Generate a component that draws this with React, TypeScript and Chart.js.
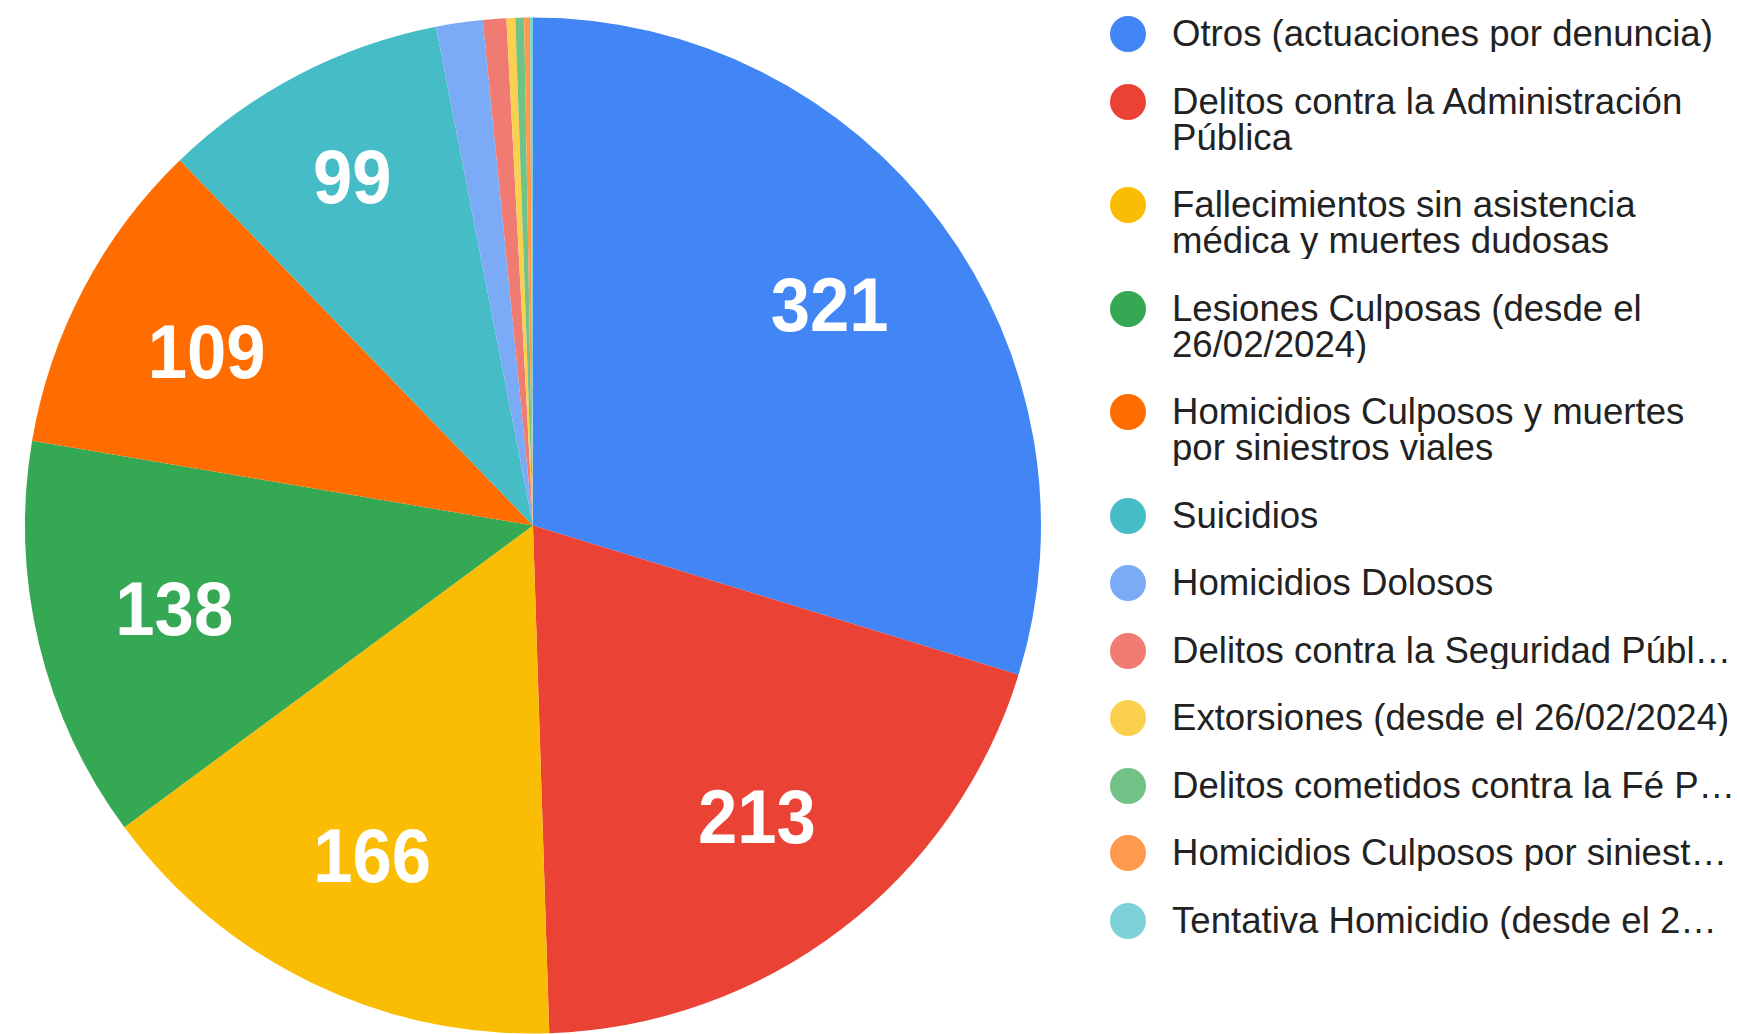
import React, { useEffect, useRef } from "react";
import { Chart, registerables } from "chart.js";

Chart.register(...registerables);

const categories: string[] = [
  "Otros (actuaciones por denuncia)",
  "Delitos contra la Administración Pública",
  "Fallecimientos sin asistencia médica y muertes dudosas",
  "Lesiones Culposas (desde el 26/02/2024)",
  "Homicidios Culposos y muertes por siniestros viales",
  "Suicidios",
  "Homicidios Dolosos",
  "Delitos contra la Seguridad Pública",
  "Extorsiones (desde el 26/02/2024)",
  "Delitos cometidos contra la Fé Pública",
  "Homicidios Culposos por siniestros viales",
  "Tentativa Homicidio (desde el 26/02/2024)",
];

const values: number[] = [321, 213, 166, 138, 109, 99, 16, 8, 3, 3, 2, 1];

const colors: string[] = [
  "#4285f4",
  "#ea4335",
  "#fbbc04",
  "#34a853",
  "#ff6d01",
  "#46bdc6",
  "#7baaf7",
  "#f07b72",
  "#fcd04f",
  "#71c287",
  "#ff994d",
  "#7ed1d7",
];

// maximum number of legend lines per entry (Google wraps some, truncates others)
const legendMaxLines: number[] = [1, 2, 2, 2, 2, 1, 1, 1, 1, 1, 1, 1];

const FONT = '"Liberation Sans", Arial, Helvetica, sans-serif';

const sliceLabelPlugin = {
  id: "sliceLabels",
  afterDatasetsDraw(chart: any) {
    const ctx = chart.ctx as CanvasRenderingContext2D;
    const meta = chart.getDatasetMeta(0);
    const data = chart.data.datasets[0].data as number[];
    const total = data.reduce((a, b) => a + b, 0);
    const size = 76;
    const sx = 0.93;
    ctx.save();
    ctx.fillStyle = "#ffffff";
    ctx.font = `bold ${size}px ${FONT}`;
    ctx.textAlign = "center";
    ctx.textBaseline = "alphabetic";
    meta.data.forEach((arc: any, i: number) => {
      if (data[i] / total < 0.05) return;
      const p = arc.getProps(["x", "y", "startAngle", "endAngle", "outerRadius"], true);
      const mid = (p.startAngle + p.endAngle) / 2;
      const span = ((p.endAngle - p.startAngle) * 180) / Math.PI;
      const r = p.outerRadius * (span < 35 ? 0.77 : 0.726);
      const cx = p.x + Math.cos(mid) * r;
      const cy = p.y + Math.sin(mid) * r;
      ctx.save();
      ctx.translate(cx, cy + size * 0.32);
      ctx.scale(sx, 1);
      ctx.fillText(String(data[i]), 0, 0);
      ctx.restore();
    });
    ctx.restore();
  },
};

export default function App() {
  const canvasRef = useRef<HTMLCanvasElement | null>(null);

  useEffect(() => {
    const canvas = canvasRef.current;
    if (!canvas) return;
    const chart = new Chart(canvas, {
      type: "pie",
      data: {
        labels: categories,
        datasets: [
          {
            data: values,
            backgroundColor: colors,
            borderWidth: 0,
            hoverOffset: 0,
          },
        ],
      },
      options: {
        responsive: false,
        animation: false,
        layout: { padding: { top: 17, bottom: 0, left: 25, right: 25 } },
        plugins: {
          legend: { display: false },
          tooltip: { enabled: false },
        },
      },
      plugins: [sliceLabelPlugin],
    });
    return () => chart.destroy();
  }, []);

  return (
    <div
      style={{
        position: "fixed",
        left: 0,
        top: 0,
        width: 1737,
        height: 1034,
        background: "#ffffff",
        overflow: "hidden",
      }}
    >
      <canvas
        ref={canvasRef}
        width={1066}
        height={1034}
        style={{ position: "absolute", left: 0, top: 0, width: 1066, height: 1034 }}
      />
      <div
        style={{
          position: "absolute",
          left: 1110,
          top: 16,
          width: 627,
          fontFamily: FONT,
          fontSize: 36.6,
          lineHeight: "36px",
          color: "#222222",
        }}
      >
        {categories.map((c, i) => (
          <div
            key={c}
            style={{ display: "flex", alignItems: "flex-start", marginBottom: 31.5 }}
          >
            <div
              style={{
                width: 36,
                height: 36,
                borderRadius: "50%",
                background: colors[i],
                flex: "0 0 36px",
              }}
            />
            <div
              style={{
                marginLeft: 26,
                width: 565,
                overflow: "hidden",
                ...(legendMaxLines[i] === 1
                  ? { whiteSpace: "nowrap", textOverflow: "ellipsis" }
                  : {
                      display: "-webkit-box",
                      WebkitLineClamp: legendMaxLines[i],
                      WebkitBoxOrient: "vertical" as any,
                    }),
              }}
            >
              {c}
            </div>
          </div>
        ))}
      </div>
    </div>
  );
}
